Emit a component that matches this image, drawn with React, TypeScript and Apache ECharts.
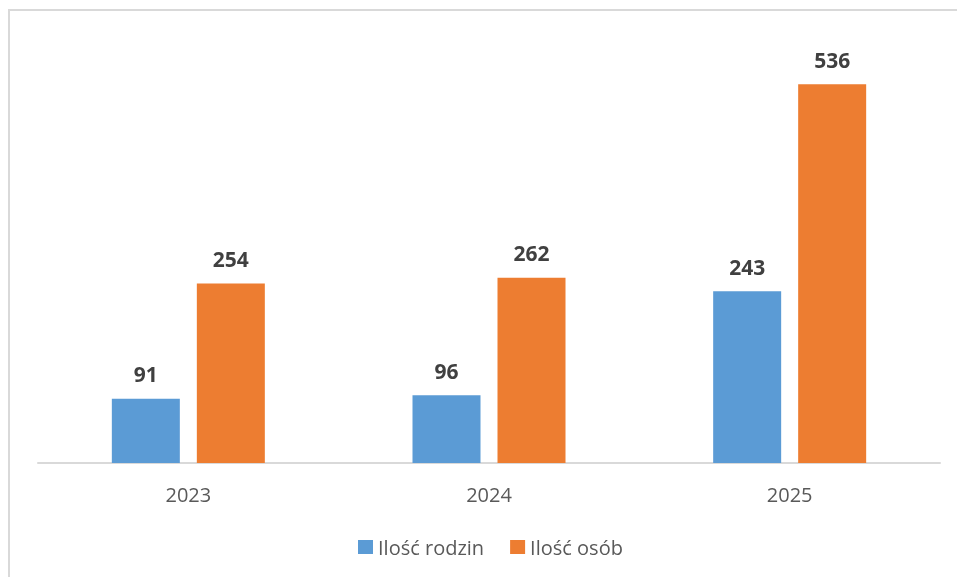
import React, { useEffect, useRef } from "react";
import * as echarts from "echarts";

const categories = ["2023", "2024", "2025"];
const families = [91, 96, 243];
const persons = [254, 262, 536];
const seriesNames = ["Ilość rodzin", "Ilość osób"];

export default function App() {
  const ref = useRef<HTMLDivElement>(null);
  useEffect(() => {
    if (!ref.current) return;
    const chart = echarts.init(ref.current, null, { renderer: "svg" });
    const font = "'Open Sans', Lato, sans-serif";
    const label = {
      show: true,
      position: "top",
      distance: 14,
      color: "#404040",
      fontSize: 21,
      fontWeight: "bold",
      fontFamily: font,
    };
    chart.setOption({
      animation: false,
      textStyle: { fontFamily: font },
      graphic: [
        {
          type: "rect",
          shape: { x: 9, y: 10, width: 1200, height: 1200 },
          style: { fill: "none", stroke: "#d9d9d9", lineWidth: 2 },
          silent: true,
        },
      ],
      grid: { left: 38, right: 17, top: 39, bottom: 114 },
      xAxis: {
        type: "category",
        data: categories,
        axisTick: { show: false },
        axisLine: { lineStyle: { color: "#d9d9d9", width: 2 } },
        axisLabel: { color: "#595959", fontSize: 20, margin: 21, fontFamily: font },
      },
      yAxis: { type: "value", min: 0, max: 600, show: false, splitLine: { show: false } },
      legend: {
        data: seriesNames,
        left: 358,
        top: 537,
        padding: 0,
        itemWidth: 15,
        itemHeight: 14,
        itemGap: 26,
        icon: "rect",
        textStyle: { color: "#595959", fontSize: 20, fontFamily: font },
      },
      series: [
        {
          name: seriesNames[0],
          type: "bar",
          data: families,
          barWidth: 68,
          barGap: "25%",
          itemStyle: { color: "#5b9bd5" },
          label,
        },
        {
          name: seriesNames[1],
          type: "bar",
          data: persons,
          barWidth: 68,
          itemStyle: { color: "#ed7d31" },
          label,
        },
      ],
    });
    return () => chart.dispose();
  }, []);
  return <div ref={ref} style={{ position: "fixed", left: 0, top: 0, width: 957, height: 577 }} />;
}
